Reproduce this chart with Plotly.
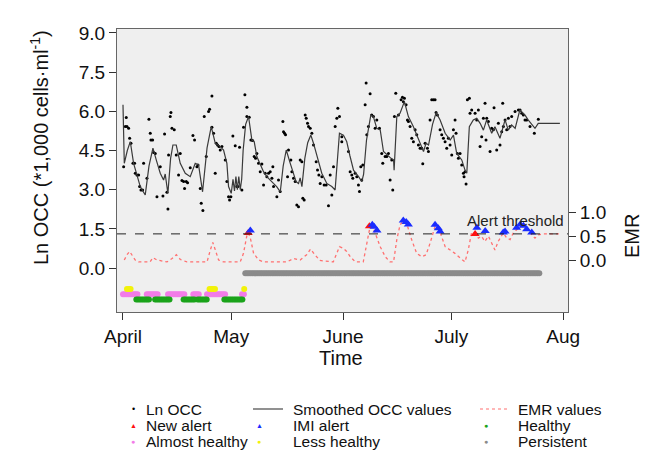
import numpy as np
import plotly.graph_objects as go

# ---------------- data (x = days since 1 April) ----------------
smooth_day = [0.0, 0.36, 1.2, 2.02, 2.94, 3.69, 4.79, 5.5, 6.17, 7.2, 8.3, 9.3, 10.33, 11.25, 11.7,
              12.45, 13.2, 13.84, 14.76, 15.87, 17.26, 18.64, 20.03, 20.95, 22.06, 23.3, 24.46,
              25.57, 26.96, 27.88, 28.8, 29.26, 30.0, 30.5, 30.9, 31.3, 31.7, 32.1, 32.5, 32.9,
              33.3, 34.0, 34.8, 35.73, 36.37, 37.1, 38.03, 38.95, 39.87, 40.8, 41.7, 42.6, 43.6,
              44.4, 45.25, 46.36, 47.28, 48.0, 48.66, 49.1, 49.6, 50.4, 51.2, 52.07, 52.8, 54.2,
              55.1, 56.5, 57.88, 58.8, 60.0, 61.1, 62.0, 62.9, 63.9, 65.3, 66.2, 66.7, 67.5, 68.7,
              69.4, 70.35, 71.3, 72.2, 73.6, 74.3, 75.0, 75.15, 75.9, 76.8, 78.0, 79.1, 80.5,
              81.4, 82.8, 83.3, 84.0, 84.7, 85.8, 86.8, 87.9, 89.3, 90.7, 91.6, 92.5, 93.9, 94.8,
              95.3, 96.0, 97.1, 98.05, 99.0, 99.9, 100.8, 102.2, 103.1, 104.5, 105.9, 106.8,
              107.7, 108.7, 110.0, 111.4, 112.3, 114.2, 115.1, 121.1]
smooth_val = [6.25, 4.01, 4.5, 4.84, 4.01, 3.63, 3.12, 2.95, 2.80, 3.9, 4.59, 4.1, 3.63, 3.37, 3.6,
              2.86, 4.2, 4.71, 4.71, 4.01, 3.63, 3.50, 4.01, 3.95, 2.92, 4.6, 5.41,
              4.78, 4.65, 4.52, 4.01, 3.12, 2.86, 3.4, 2.95, 3.5, 3.0, 3.5, 3.0, 3.4,
              4.5, 5.5, 5.80, 4.90, 4.84, 4.27, 4.01, 3.69, 3.50, 3.35, 3.24, 3.12, 2.92,
              3.9, 4.52, 4.01, 3.63, 3.3, 3.24, 3.45, 3.12, 4.2, 4.8, 5.09, 4.78, 4.14,
              3.63, 3.24, 3.12, 2.99, 5.16, 5.09, 4.85, 4.3, 3.75, 3.50, 3.31, 3.6, 4.9, 5.86,
              5.80, 5.35, 5.29, 4.46, 4.27, 4.2, 4.14, 3.75, 5.80, 5.93, 6.37, 5.80, 5.41,
              5.09, 4.59, 4.46, 4.78, 4.71, 5.5, 5.95, 5.67, 5.16, 4.90, 5.09, 4.39, 4.14, 3.75,
              3.63, 5.41, 5.67, 5.73, 5.54, 5.28, 5.67, 5.16, 5.41, 4.97, 5.67, 5.28,
              5.48, 5.35, 6.05, 5.86, 5.67, 5.35, 5.54, 5.54]

occ_day = [0.18, 0.64, 1.10, 0.91, 1.56, 1.84, 2.21, 2.76, 3.22, 3.41, 3.87, 4.33, 4.61, 4.98, 5.44,
           5.72, 6.64, 7.19, 7.56, 7.75, 8.21, 8.49, 8.95, 9.41, 10.33, 11.07, 11.53, 12.18, 12.46,
           12.64, 13.10, 13.29, 13.57, 14.21, 14.77, 15.41, 15.87, 16.34, 16.80, 17.07, 17.54,
           17.90, 18.64, 19.38, 19.84, 20.49, 20.77, 21.41, 21.69, 22.15, 22.52, 23.08, 23.72,
           24.0, 24.65, 24.65, 25.11, 25.57, 25.85, 26.21, 26.59, 26.95, 27.42, 28.34, 28.80,
           29.26, 29.54, 29.91, 30.46, 31.11, 31.57, 31.85, 32.31, 32.96, 33.42, 33.79, 34.34,
           34.34, 34.99, 35.45, 35.91, 36.37, 36.74, 37.11, 37.57, 38.04, 38.50, 38.96, 39.42,
           39.88, 40.34, 40.81, 41.27, 41.54, 41.73, 42.65, 43.11, 43.58, 44.32, 44.50, 44.78,
           45.05, 45.61, 45.88, 46.53, 46.81, 47.27, 47.73, 48.19, 48.65, 49.12, 49.58, 49.85,
           50.22, 50.50, 50.78, 51.15, 51.42, 51.89, 52.35, 52.81, 53.55, 53.92, 54.29, 54.66,
           55.12, 55.76, 56.32, 56.96, 57.43, 57.89, 58.35, 58.81, 59.27, 59.55, 60.01, 60.66,
           60.65, 62.50, 62.96, 63.42, 63.70, 64.35, 64.81, 65.27, 65.55, 65.92, 66.19, 66.47,
           67.12, 67.39, 67.58, 68.04, 68.50, 68.96, 69.42, 69.89, 70.35, 71.09, 71.73, 72.01,
           72.66, 73.12, 73.58, 74.04, 74.50, 74.78, 75.24, 75.61, 76.35, 77.09, 77.46, 77.73,
           78.01, 78.47, 78.84, 79.12, 79.58, 80.04, 80.50, 80.97, 81.43, 81.89, 82.35, 82.81,
           83.09, 83.74, 84.38, 84.66, 85.12, 85.58, 86.05, 86.51, 86.78, 87.15, 87.89, 88.35,
           88.82, 89.28, 89.74, 90.20, 90.66, 91.12, 91.59, 92.05, 92.32, 92.69, 92.97, 93.43,
           93.89, 94.36, 94.54, 94.82, 95.09, 95.46, 96.02, 96.20, 96.66, 97.59, 98.05, 98.51,
           98.97, 99.43, 99.90, 100.36, 100.63, 100.82, 101.28, 101.74, 102.20, 102.67, 102.85,
           103.59, 104.05, 104.51, 104.98, 105.25, 105.44, 105.90, 106.36, 106.82, 107.28,
           107.74, 108.67, 109.59, 110.06, 110.52, 110.98, 111.44, 111.90, 112.82, 114.02, 115.13]
occ_val = [3.88, 5.42, 5.42, 5.76, 5.35, 4.97, 4.78, 4.01, 4.01, 3.63, 3.56, 3.56, 3.12, 2.99, 2.99,
           4.01, 3.44, 5.70, 5.16, 4.90, 4.90, 4.42, 4.39, 2.73, 3.88, 2.76, 5.13, 2.90, 2.26,
           4.33, 5.80, 5.95, 5.35, 5.29, 4.33, 3.56, 4.39, 3.35, 3.31, 3.05, 3.31,
           3.27, 3.84, 5.07, 4.90, 3.88, 3.95, 3.05, 2.48, 2.20, 5.80, 4.27, 5.99,
           6.08, 6.59, 5.39, 5.16, 3.63, 4.78, 4.71, 4.65, 4.52, 4.65, 4.14, 3.31,
           2.73, 2.61, 2.73, 5.06, 4.68, 3.12, 3.12, 4.62, 2.99, 5.39, 6.63, 6.16,
           5.80, 5.77, 4.90, 4.88, 4.27, 4.20, 4.39, 4.01, 3.69, 3.98, 3.18, 3.63,
           3.50, 3.63, 3.69, 3.44, 3.88, 3.12, 2.73, 3.37, 2.93, 5.61, 5.22, 5.16,
           5.10, 3.50, 4.52, 4.14, 3.69, 3.44, 3.31, 2.41, 2.35, 4.14, 4.07, 2.67,
           2.61, 5.86, 5.73, 5.54, 5.42, 5.35, 5.16, 4.71, 4.07, 3.75, 3.56, 3.24,
           3.50, 3.18, 3.18, 2.39, 3.56, 2.80, 3.88, 5.42, 5.73, 6.12, 5.80, 5.03,
           4.84, 4.46, 3.69, 3.56, 3.44, 3.63, 3.50, 3.18, 2.93, 3.88, 3.37, 3.95,
           6.25, 7.08, 5.10, 5.42, 6.67, 5.86, 5.80, 5.35, 5.67, 5.35, 4.39, 4.01,
           4.27, 4.27, 4.39, 3.37, 4.14, 2.99, 5.80, 6.69, 5.86, 6.44, 6.54, 6.37,
           6.50, 6.25, 5.67, 5.61, 5.42, 4.97, 4.84, 5.29, 5.10, 4.71, 4.59, 4.59,
           3.99, 4.78, 4.59, 4.46, 5.67, 6.44, 6.44, 6.44, 5.95, 5.86, 5.29, 5.10,
           4.97, 4.84, 4.59, 4.97, 4.71, 4.33, 5.29, 5.67, 5.16, 4.39, 4.20, 4.39,
           3.95, 3.63, 3.50, 3.69, 3.22, 6.44, 6.50, 5.93, 6.05, 5.93, 5.67, 6.05,
           4.65, 5.03, 5.73, 6.31, 4.90, 5.73, 5.61, 4.46, 5.35, 5.29, 6.14,
           4.52, 5.54, 4.71, 5.22, 6.31, 5.42, 5.67, 5.29, 5.73, 5.42,
           5.80, 5.99, 6.05, 6.05, 5.93, 5.86, 5.67, 5.67, 5.42, 5.16, 5.70]

emr_day = [0.36, 1.1, 1.84, 2.5, 3.4, 4.3, 7.5, 8.3, 9.4, 12.2, 13.6, 14.8, 15.9, 17.7, 23.3, 24.2,
           24.9, 25.6, 26.5, 27.9, 32.5, 33.4, 34.3, 34.8, 35.4, 36.2, 37.6, 39.0, 45.4, 47.3,
           49.1, 50.9, 52.0, 53.2, 54.6, 58.3, 59.2, 60.0, 61.0, 62.0, 63.0, 64.4, 66.6, 67.6,
           68.5, 69.4, 70.3, 71.3, 72.7, 74.0, 75.0, 75.9, 76.8, 77.7, 78.6, 80.0, 81.4, 82.8,
           84.0, 85.1, 86.5, 87.4, 88.3, 89.3, 90.7, 92.0, 93.5, 94.8, 95.7, 96.6, 97.6, 98.5,
           99.4, 100.3, 101.3, 102.2, 103.1, 104.0, 105.4, 106.4, 107.3, 108.2, 109.6, 110.5,
           111.4, 112.8, 114.2, 115.1, 116.5, 121.1]
emr_val = [0.0, 0.11, 0.18, 0.11, 0.0, -0.04, -0.04, 0.05, 0.0, -0.04, 0.03, 0.11, 0.01, -0.04, -0.04, 0.21,
           0.37, 0.21, 0.0, -0.04, -0.04, 0.14, 0.50, 0.57, 0.43, 0.14, 0.0, -0.04, -0.04, 0.03,
           0.0, 0.11, 0.23, 0.11, -0.01, -0.04, 0.14, 0.28, 0.25, 0.18, 0.07, -0.04, -0.04, 0.35,
           0.71, 0.67, 0.50, 0.28, 0.07, -0.04, -0.04, 0.43, 0.74, 0.82, 0.78, 0.43, 0.14, 0.07,
           0.11, 0.35, 0.71, 0.67, 0.50, 0.28, 0.21, 0.14, 0.04, -0.04, 0.21, 0.57, 0.57, 0.46,
           0.50, 0.39, 0.50, 0.35, 0.21, 0.39, 0.57, 0.46, 0.43, 0.57, 0.67, 0.71,
           0.67, 0.57, 0.46, 0.53, 0.55, 0.55]

new_alert_day = [34.7, 68.3, 97.6]
new_alert_emr = [0.57, 0.71, 0.55]
imi_alert_day = [35.3, 69.1, 69.6, 70.4, 77.7, 78.5, 79.1, 86.5, 87.4, 87.9, 98.1, 100.4,
                 105.4, 105.9, 109.1, 110.1, 111.0, 111.9, 113.3]
imi_alert_emr = [0.62, 0.74, 0.70, 0.62, 0.83, 0.80, 0.75, 0.74, 0.67, 0.60, 0.68, 0.61,
                 0.58, 0.60, 0.68, 0.75, 0.72, 0.65, 0.58]

# cow status periods (start day, end day), one record per half-day milking
healthy_periods = [(3.7, 7.4), (8.9, 12.9), (16.8, 19.8), (20.7, 23.4), (28.1, 33.2)]
almost_healthy_periods = [(0.0, 4.0), (6.6, 9.6), (12.5, 17.3), (19.5, 21.4), (23.3, 28.6), (33.0, 33.9)]
less_healthy_periods = [(1.1, 2.2), (24.0, 25.6), (33.6, 33.6)]
persistent_periods = [(33.9, 115.6)]

alert_threshold = 0.55
month_ticks = [0, 30, 61, 91, 122]
month_labels = ["April", "May", "June", "July", "Aug"]
occ_ticks = [0.0, 1.5, 3.0, 4.5, 6.0, 7.5, 9.0]
emr_ticks = [0.0, 0.5, 1.0]

# ---------------- styling / layout ----------------
FONT = "Liberation Sans, Arial, Helvetica, sans-serif"
W, H = 656, 452
L, R, T, B = 117, 568, 29, 312   # plot area in px


def px2x(px):
    return (px - L) / (R - L)


def py2y(py):
    return (B - py) / (B - T)


status_style = {
    "Healthy": dict(level=-1.2, color="#1aa31a"),
    "Almost healthy": dict(level=-1.0, color="#f27ce8"),
    "Less healthy": dict(level=-0.8, color="#f2f20a"),
    "Persistent": dict(level=-0.2, color="#8a8a8a"),
}
status_periods = {
    "Healthy": healthy_periods,
    "Almost healthy": almost_healthy_periods,
    "Less healthy": less_healthy_periods,
    "Persistent": persistent_periods,
}


def expand(periods):
    xs = []
    for a, b in periods:
        xs.extend(np.arange(a, b + 0.01, 0.5).tolist())
    return xs


fig = go.Figure()

fig.add_trace(go.Scatter(x=occ_day, y=occ_val, mode="markers",
                         marker=dict(color="black", size=3), showlegend=False))
fig.add_trace(go.Scatter(x=smooth_day, y=smooth_val, mode="lines",
                         line=dict(color="#3a3a3a", width=1.2), showlegend=False))
fig.add_trace(go.Scatter(x=emr_day, y=emr_val, mode="lines", yaxis="y2",
                         line=dict(color="#ff7070", width=1.3, dash="dot"), showlegend=False))

for name in ["Persistent", "Almost healthy", "Healthy", "Less healthy"]:
    xs = expand(status_periods[name])
    st = status_style[name]
    fig.add_trace(go.Scatter(x=xs, y=[st["level"]] * len(xs), mode="markers",
                             marker=dict(color=st["color"], size=6), showlegend=False))

fig.add_trace(go.Scatter(x=new_alert_day, y=new_alert_emr, mode="markers", yaxis="y2",
                         marker=dict(symbol="triangle-up", color="#ff1010", size=8), showlegend=False))
fig.add_trace(go.Scatter(x=imi_alert_day, y=imi_alert_emr, mode="markers", yaxis="y2",
                         marker=dict(symbol="triangle-up", color="#1a2cff", size=8), showlegend=False))

# threshold line
fig.add_shape(type="line", xref="paper", x0=0, x1=1, yref="y2", y0=alert_threshold, y1=alert_threshold,
              line=dict(color="#222", width=1, dash="dash"))

annotations = [
    dict(text="Alert threshold", xref="paper", yref="paper", x=px2x(566), y=py2y(220),
         xanchor="right", yanchor="middle", showarrow=False, font=dict(size=15, color="#222")),
    dict(text="Ln OCC (*1,000 cells·ml<sup>-1</sup>)", xref="paper", yref="paper",
         x=px2x(39), y=py2y(148), textangle=-90, showarrow=False,
         xanchor="center", yanchor="middle", font=dict(size=20, color="#111")),
    dict(text="Time", xref="paper", yref="paper", x=px2x(341), y=py2y(358),
         showarrow=False, xanchor="center", yanchor="middle", font=dict(size=20, color="#111")),
    dict(text="EMR", xref="paper", yref="paper", x=px2x(632), y=py2y(236), textangle=-90,
         showarrow=False, xanchor="center", yanchor="middle", font=dict(size=20, color="#111")),
]

# ----- legend (three columns) -----
rows = [409, 425, 441]
legend_text = [
    (145, rows[0], "Ln OCC"), (145, rows[1], "New alert"), (145, rows[2], "Almost healthy"),
    (292, rows[0], "Smoothed OCC values"), (292, rows[1], "IMI alert"), (292, rows[2], "Less healthy"),
    (517, rows[0], "EMR values"), (517, rows[1], "Healthy"), (517, rows[2], "Persistent"),
]
for x, y, t in legend_text:
    annotations.append(dict(text=t, xref="paper", yref="paper", x=px2x(x), y=py2y(y),
                            xanchor="left", yanchor="middle", showarrow=False, borderpad=0,
                            font=dict(size=15.5, color="#111")))
legend_syms = [
    (133, rows[0], "•", "black", 9),
    (133, rows[1], "▲", "#ff1010", 7),
    (133, rows[2], "●", status_style["Almost healthy"]["color"], 7),
    (259, rows[1], "▲", "#1a2cff", 7),
    (259, rows[2], "●", status_style["Less healthy"]["color"], 7),
    (486, rows[1], "●", status_style["Healthy"]["color"], 7),
    (486, rows[2], "●", status_style["Persistent"]["color"], 7),
]
for x, y, s, c, sz in legend_syms:
    annotations.append(dict(text=s, xref="paper", yref="paper", x=px2x(x), y=py2y(y),
                            xanchor="center", yanchor="middle", showarrow=False, borderpad=0,
                            font=dict(size=sz, color=c)))
fig.add_shape(type="line", xref="paper", yref="paper", x0=px2x(253), x1=px2x(283),
              y0=py2y(rows[0]), y1=py2y(rows[0]), line=dict(color="#555", width=1.3))
fig.add_shape(type="line", xref="paper", yref="paper", x0=px2x(480), x1=px2x(508),
              y0=py2y(rows[0]), y1=py2y(rows[0]), line=dict(color="#ff7070", width=1.2, dash="dot"))

emr_px = 47.5
emr_zero_py = 260
fig.update_layout(
    width=W, height=H,
    margin=dict(l=L, r=W - R, t=T, b=H - B, pad=0),
    paper_bgcolor="white", plot_bgcolor="#efefef",
    font=dict(family=FONT, color="#111"),
    showlegend=False,
    annotations=annotations,
    xaxis=dict(range=[-1.66, 123.35], tickvals=month_ticks, ticktext=month_labels,
               ticks="outside", ticklen=7, tickcolor="#333", tickfont=dict(size=19),
               showgrid=False, zeroline=False, showline=True, linecolor="#666", mirror=True),
    yaxis=dict(range=[-1.68, 9.15], tickvals=occ_ticks, tickformat=".1f",
               ticks="outside", ticklen=7, tickcolor="#333", tickfont=dict(size=19),
               showgrid=False, zeroline=False, showline=True, linecolor="#666", mirror=True),
    yaxis2=dict(overlaying="y", side="right",
                range=[-(B - emr_zero_py) / emr_px, (emr_zero_py - T) / emr_px],
                tickvals=emr_ticks, tickformat=".1f", ticks="outside", ticklen=7, tickcolor="#333",
                tickfont=dict(size=19), showgrid=False, zeroline=False, showline=False),
)

fig.write_html("out.html")
